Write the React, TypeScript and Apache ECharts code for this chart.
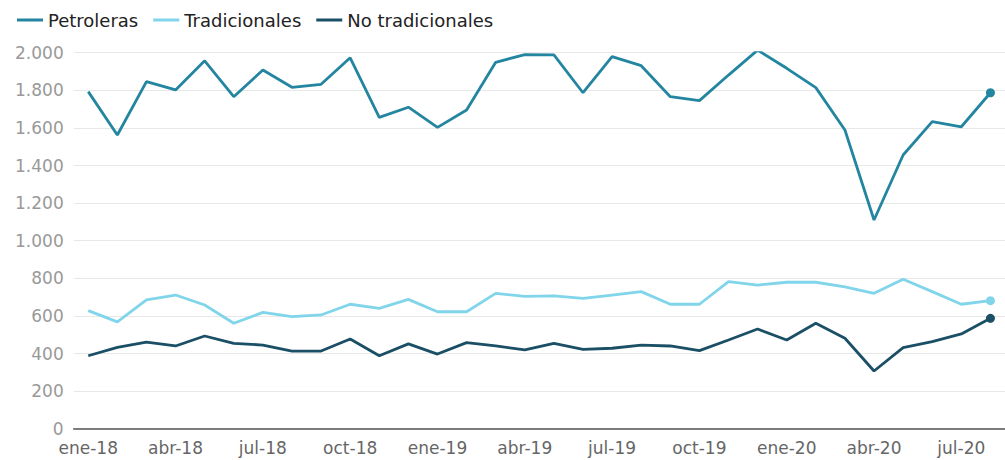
import React, { useEffect, useRef } from "react";
import * as echarts from "echarts";

const months = ["ene", "feb", "mar", "abr", "may", "jun", "jul", "ago", "sep", "oct", "nov", "dic"];
const years = ["18", "19", "20"];
const categories: string[] = [];
for (const y of years) for (const m of months) categories.push(`${m}-${y}`);
const xLabels = categories.slice(0, 32);

const petroleras = [1793, 1562, 1846, 1802, 1957, 1766, 1908, 1816, 1832, 1973, 1656, 1710, 1603, 1695, 1949, 1990, 1988, 1787, 1979, 1931, 1766, 1745, 1881, 2014, 1917, 1814, 1589, 1110, 1456, 1633, 1606, 1787];
const tradicionales = [628, 568, 685, 711, 658, 561, 619, 596, 605, 662, 640, 688, 622, 622, 720, 704, 706, 693, 711, 729, 662, 662, 782, 764, 779, 779, 755, 720, 795, 729, 662, 681];
const noTradicionales = [388, 433, 460, 440, 493, 454, 445, 413, 413, 477, 388, 451, 397, 458, 440, 419, 454, 422, 428, 445, 440, 415, 472, 530, 472, 561, 481, 307, 431, 463, 504, 587];

const seriesNames = ["Petroleras", "Tradicionales", "No tradicionales"];
const colors = ["#2385a0", "#80d5ea", "#1a4f66"];

export default function App() {
  const ref = useRef<HTMLDivElement>(null);
  useEffect(() => {
    if (!ref.current) return;
    const chart = echarts.init(ref.current, null, { renderer: "svg" });
    const font = "DejaVu Sans";
    const mk = (name: string, data: number[], color: string) => ({
      name,
      type: "line",
      data,
      color,
      symbol: "circle",
      showSymbol: true,
      showAllSymbol: true,
      symbolSize: (_v: any, p: any) => (p.dataIndex === data.length - 1 ? 9 : 0),
      lineStyle: { width: 2.8, color },
      itemStyle: { color },
      emphasis: { disabled: true },
    });
    chart.setOption({
      animation: false,
      color: colors,
      legend: {
        left: 12,
        top: 6,
        icon: "rect",
        itemWidth: 26,
        itemHeight: 3,
        itemGap: 15,
        textStyle: { fontFamily: font, fontSize: 18, color: "#222" },
        data: seriesNames,
      },
      grid: { left: 73.7, right: -6.5, top: 52.7, bottom: 31.3, containLabel: false },
      xAxis: {
        type: "category",
        data: xLabels,
        boundaryGap: true,
        axisLine: { lineStyle: { color: "#555", width: 1.5 } },
        axisTick: { alignWithLabel: true, interval: 2, length: 5, lineStyle: { color: "#555", width: 1.5 } },
        axisLabel: { interval: 2, margin: 11, fontFamily: font, fontSize: 17, color: "#666" },
        splitLine: { show: false },
      },
      yAxis: {
        type: "value",
        min: 0,
        max: 2000,
        interval: 200,
        axisLine: { show: false },
        axisTick: { show: false },
        axisLabel: {
          margin: 10,
          fontFamily: font,
          fontSize: 17,
          color: "#999",
          formatter: (v: number) => v.toLocaleString("de-DE"),
        },
        splitLine: { lineStyle: { color: "#e8e8e8", width: 1 } },
      },
      series: [
        mk(seriesNames[0], petroleras, colors[0]),
        mk(seriesNames[1], tradicionales, colors[1]),
        mk(seriesNames[2], noTradicionales, colors[2]),
      ],
    });
    return () => chart.dispose();
  }, []);
  return (
    <div
      ref={ref}
      style={{ position: "absolute", left: 0, top: 0, width: 1005, height: 460, background: "#fff" }}
    />
  );
}
